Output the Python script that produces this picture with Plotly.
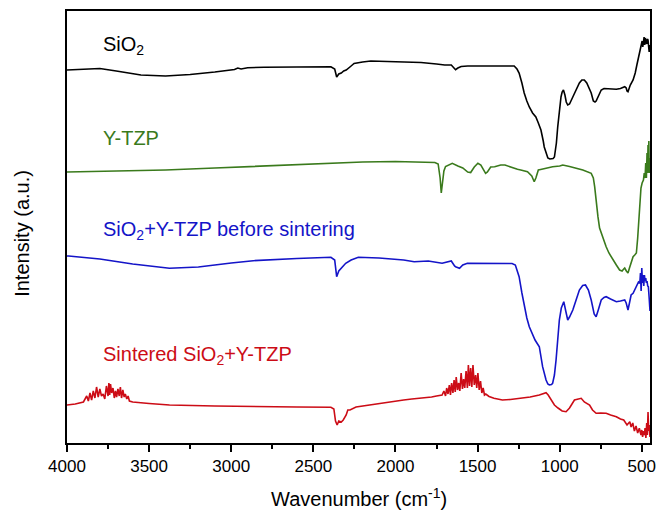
import plotly.graph_objects as go

# ---------------- data (wavenumber cm^-1, intensity a.u.) ----------------
sio2_w = [4000, 3900, 3800, 3700, 3550, 3400, 3250, 3100, 2980, 2960, 2940, 2900, 2800, 2600, 2393,
          2370, 2358, 2345, 2330, 2315, 2300, 2270, 2252, 2200, 2150, 2050, 1950, 1844, 1750, 1700,
          1660, 1645, 1634, 1620, 1600, 1560, 1450, 1350, 1277, 1260, 1247, 1230, 1216, 1200, 1185,
          1165, 1145, 1130, 1114, 1100, 1094, 1080, 1072, 1060, 1052, 1040, 1032, 1020, 1012, 1000,
          992, 985, 977, 968, 960, 951, 940, 920, 900, 880, 865, 850, 835, 820, 808, 795, 785, 778,
          765, 747, 730, 717, 690, 655, 630, 604, 595, 590, 584, 578, 570, 553, 540, 530, 520, 512,
          505, 498, 494, 490, 486, 482, 478, 474, 470, 466, 462, 458, 455, 452, 450]
sio2_v = [373, 373.5, 374.5, 372, 368, 367, 368.5, 371, 373.5, 375, 374, 375.3, 375.8, 376, 376.3,
          374, 366, 369, 370, 372, 373, 377, 379.5, 381, 382, 381.5, 381, 380.5, 379, 378,
          378, 375, 373.3, 375, 376.5, 377, 377, 377, 377, 374, 370, 360, 350, 342, 336,
          330, 326, 320, 313, 302, 296, 289, 285, 284, 284, 284.5, 286, 300, 316, 335,
          346, 351, 353, 348, 341, 338, 339, 346, 353, 360, 363, 363, 360, 354, 350, 342, 341, 342,
          347, 353, 354.5, 354.3, 354, 353.7, 354.5, 356.3, 355, 352, 351.3, 354, 358, 363, 370, 378, 385, 390,
          394, 402, 396, 400, 406, 398, 405, 401, 399, 404, 403, 396, 391, 398, 395]

ytzp_w = [4000, 3700, 3400, 3100, 2800, 2500, 2200, 2000, 1850, 1760, 1740, 1728, 1721, 1714, 1705,
          1695, 1670, 1654, 1620, 1590, 1560, 1542, 1520, 1498, 1480, 1460, 1451, 1440, 1420, 1396,
          1359, 1333, 1300, 1257, 1237, 1196, 1170, 1155, 1145, 1130, 1116, 1080, 1043, 1000, 981,
          940, 900, 859, 808, 795, 787, 777, 767, 757, 747, 735, 717, 700, 676, 655, 635, 620, 610,
          604, 594, 584, 575, 565, 553, 543, 533, 525, 518, 512, 505, 498, 490, 485, 480, 476, 472,
          468, 465, 462, 460, 457, 455, 452, 450]
ytzp_v = [271, 272, 273, 275, 277, 279, 281, 281.5, 281, 280.5, 279, 265, 250, 258, 272,
          276.5, 278, 279.7, 277, 275, 271, 270.5, 276, 279.7, 278, 273, 269.7, 271, 276, 276.3,
          278, 278, 276, 273.7, 273, 271.3, 267, 261.3, 265, 273, 273.5, 275, 276.3, 277, 278,
          276.5, 275, 273, 269.7, 265, 256.3, 240, 226.3, 215, 210, 204, 196.3, 190, 183, 178, 173, 172, 174,
          175, 172, 170, 175, 180, 186.3, 188, 190, 205, 225, 243, 255, 260, 263, 270, 265, 280, 265,
          290, 270, 298, 275, 302, 270, 285, 275]

mix_w = [4000, 3990, 3800, 3600, 3376, 3200, 3000, 2866, 2600, 2393, 2370, 2358, 2345, 2330, 2303,
         2270, 2226, 2100, 1950, 1886, 1800, 1716, 1660, 1640, 1634, 1610, 1590, 1562, 1450, 1290,
         1270, 1247, 1230, 1216, 1200, 1185, 1150, 1124, 1104, 1083, 1072, 1063, 1050, 1043, 1032,
         1022, 1012, 1002, 990, 975, 963, 951, 940, 920, 900, 880, 860, 843, 825, 808, 790, 778,
         765, 747, 730, 717, 690, 655, 630, 604, 595, 584, 575, 565, 553, 540, 530, 520, 512, 508,
         504, 500, 496, 492, 488, 484, 480, 476, 472, 468, 464, 460, 455, 450]
mix_v = [187, 187, 184, 179, 174.7, 176, 180, 182.3, 184.5, 185.7, 183, 166.3, 172, 175, 179.7,
         183, 185.7, 185, 183, 181.3, 182, 179.7, 182, 177, 176.3, 174.7, 178, 179.7, 179.5, 179.5,
         178, 166.3, 150, 136.3, 125, 116.3, 103, 96.3, 76.3, 63, 59, 58, 58.5, 59.7, 68,
         83, 100, 123, 135, 141.3, 132, 123, 126, 133, 143, 153, 157.5, 158, 153, 143, 129, 126.3,
         133, 143, 145.5, 146.3, 144, 141.3, 142, 143, 140, 133, 140, 148, 149.7, 154, 158, 161, 160, 170,
         152, 175, 160, 168, 157, 168, 162, 165, 160, 162, 157, 156.3, 145, 132]

sint_w = [4000, 3950, 3900, 3880, 3870, 3860, 3850, 3840, 3830, 3820, 3810, 3800, 3790, 3780, 3770,
          3760, 3750, 3745, 3740, 3735, 3728, 3720, 3712, 3705, 3698, 3690, 3682, 3675, 3668, 3660,
          3652, 3645, 3636, 3628, 3620, 3600, 3500, 3376, 3100, 2866, 2600, 2393, 2375, 2365, 2355,
          2345, 2330, 2318, 2300, 2290, 2277, 2240, 2200, 2150, 2100, 2050, 2000, 1950, 1900, 1844,
          1780, 1750, 1716, 1705, 1695, 1688, 1680, 1672, 1665, 1658, 1650, 1643, 1636, 1630, 1622,
          1615, 1608, 1600, 1592, 1585, 1578, 1570, 1562, 1556, 1549, 1542, 1535, 1528, 1520, 1512,
          1505, 1498, 1490, 1482, 1474, 1466, 1458, 1450, 1430, 1400, 1349, 1300, 1226, 1180, 1124,
          1100, 1083, 1070, 1050, 1032, 1010, 985, 961, 940, 910, 890, 869, 850, 818, 800, 778, 750,
          717, 690, 655, 630, 610, 590, 573, 565, 555, 545, 535, 525, 515, 505, 500, 495, 490, 485,
          480, 475, 470, 466, 462, 458, 455, 450]
sint_v = [38, 39, 41, 47, 42, 50, 43, 52, 45, 56, 46, 54, 47, 49, 44,
          57, 47, 60, 48, 59, 50, 55, 45, 52, 46, 54, 47, 56, 45, 53,
          46, 49, 44, 47, 42, 41, 39.5, 38, 37, 36.3, 36, 35.7, 34, 22, 18,
          22, 21, 23, 28, 33, 33, 36, 37, 38, 40, 41, 42, 43, 44, 44.7,
          46, 47, 48, 52, 47, 55, 49, 58, 48, 60, 50, 63, 51, 66, 53,
          60, 52, 70, 54, 64, 55, 72, 55, 78, 57, 75, 56, 78, 58, 68,
          55, 70, 53, 62, 50, 55, 48, 49, 46.5, 44.7, 43, 43.5, 44.7, 46, 48,
          49.5, 50.3, 48, 42, 38, 35, 32, 31.3, 35, 43, 44, 44.7, 41, 38, 33, 29.7, 30,
          29.7, 28, 26.3, 24, 23, 18, 21.3, 16, 20, 12, 17, 10, 14.7, 8, 13, 6, 12, 8,
          15, 5, 20, 8, 31, 12, 18, 6]

series_names = ["SiO<sub>2</sub>", "Y-TZP", "SiO<sub>2</sub>+Y-TZP before sintering",
                "Sintered SiO<sub>2</sub>+Y-TZP"]
series_colors = ["#000000", "#3a7a1c", "#1414c8", "#cc0c16"]
label_y = [398, 305, 212.5, 88]
label_x = 3790

x_tickvals = [4000, 3500, 3000, 2500, 2000, 1500, 1000, 500]
FONT = "Liberation Sans, Arial, sans-serif"

# ---------------- figure ----------------
fig = go.Figure()
for w, v, c in zip([sio2_w, ytzp_w, mix_w, sint_w], [sio2_v, ytzp_v, mix_v, sint_v], series_colors):
    fig.add_trace(go.Scatter(x=w, y=v, mode="lines", line=dict(color=c, width=1.6),
                             showlegend=False, hoverinfo="skip"))

for name, c, ly in zip(series_names, series_colors, label_y):
    fig.add_annotation(x=label_x, y=ly, xref="x", yref="y", text=name, showarrow=False,
                       xanchor="left", yanchor="middle",
                       font=dict(size=20, color=c, family=FONT))

# axis titles as paper annotations for exact placement
fig.add_annotation(x=0.5, y=-0.126, xref="paper", yref="paper", text="Wavenumber (cm<sup>-1</sup>)",
                   showarrow=False, xanchor="center", yanchor="middle",
                   font=dict(size=20, color="black", family=FONT))
fig.add_annotation(x=-0.0766, y=0.485, xref="paper", yref="paper", text="Intensity (a.u.)",
                   showarrow=False, xanchor="center", yanchor="middle", textangle=-90,
                   font=dict(size=20, color="black", family=FONT))

fig.update_layout(
    width=656, height=510,
    margin=dict(l=67, r=6, t=11, b=67, autoexpand=False),
    paper_bgcolor="white", plot_bgcolor="white",
    font=dict(family=FONT, color="black"),
)
fig.update_xaxes(
    range=[4000, 450], tickvals=x_tickvals, ticks="outside", ticklen=7, tickwidth=1.5,
    tickcolor="black", showline=True, linecolor="black", linewidth=2, mirror=True,
    showgrid=False, zeroline=False, tickfont=dict(size=17), automargin=False,
    minor=dict(dtick=250, tick0=0, ticks="outside", ticklen=4, tickwidth=1.5, tickcolor="black", showgrid=False),
)
fig.update_yaxes(
    range=[0, 432], showticklabels=False, ticks="", showline=True, linecolor="black",
    linewidth=2, mirror=True, showgrid=False, zeroline=False, automargin=False,
)

fig.write_html("out.html", config={"displayModeBar": False},
               post_script="document.body.style.margin='0px';document.body.style.overflow='hidden';")
